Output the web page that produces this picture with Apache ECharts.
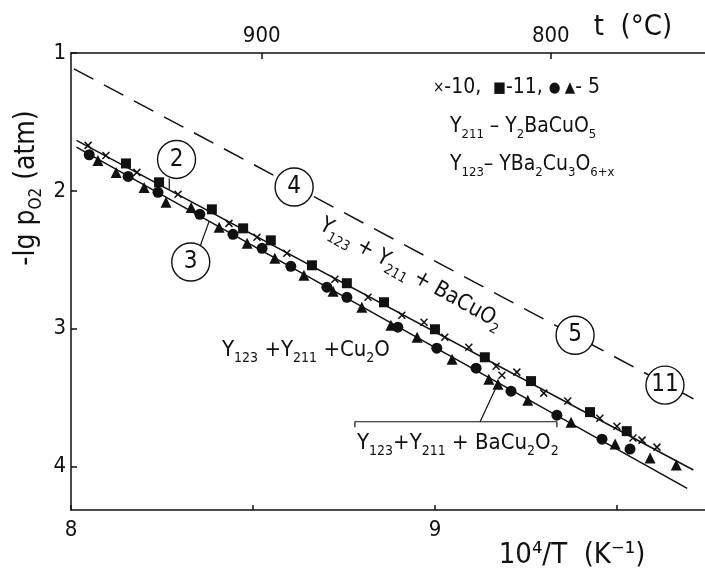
<!DOCTYPE html>
<html>
<head>
<meta charset="utf-8">
<script src="https://cdn.jsdelivr.net/npm/echarts@6/dist/echarts.min.js"></script>
<style>
html, body { margin: 0; padding: 0; background: #fff; }
#chart { width: 705px; height: 570px; }
</style>
</head>
<body>
<div id="chart"></div>
<script>
// x: 10^4/T (K^-1), y: -lg pO2 (atm)
var crosses10 = [[8.047,1.670],[8.096,1.743],[8.181,1.866],[8.294,2.025],[8.434,2.236],[8.511,2.337],
    [8.593,2.453],[8.725,2.641],[8.816,2.772],[8.909,2.902],[8.970,2.953],[9.027,3.062],[9.093,3.134],
    [9.168,3.272],[9.184,3.337],[9.225,3.315],[9.299,3.467],[9.365,3.525],[9.453,3.649],[9.500,3.707],
    [9.544,3.793],[9.569,3.808],[9.610,3.859]];
var squares11 = [[8.151,1.801],[8.242,1.938],[8.387,2.134],[8.473,2.272],[8.549,2.359],[8.662,2.540],
    [8.758,2.670],[8.860,2.808],[9.000,3.004],[9.137,3.207],[9.264,3.380],[9.426,3.605],[9.527,3.743]];
var circles5 = [[8.050,1.738],[8.157,1.895],[8.239,2.011],[8.354,2.170],[8.445,2.315],[8.525,2.417],
    [8.604,2.547],[8.703,2.699],[8.758,2.772],[8.898,2.989],[9.005,3.141],[9.113,3.286],[9.209,3.453],
    [9.335,3.627],[9.459,3.801],[9.536,3.873]];
var triangles5 = [[8.074,1.779],[8.124,1.866],[8.201,1.975],[8.261,2.083],[8.330,2.120],[8.407,2.264],
    [8.484,2.380],[8.560,2.489],[8.640,2.612],[8.720,2.728],[8.799,2.844],[8.879,2.975],[8.951,3.062],
    [9.047,3.221],[9.148,3.366],[9.173,3.402],[9.255,3.518],[9.374,3.678],[9.495,3.837],[9.591,3.938],
    [9.663,3.989]];

// fitted lines, end points
var line2 = [[8.015,1.634],[9.710,4.025]];
var line3 = [[8.015,1.683],[9.693,4.158]];
var line4 = [[8.008,1.115],[9.728,3.533]];

// numbered circles and their leaders
var circleNames = ['2', '3', '4', '5', '11'];
var circlePos = [[8.290,1.772],[8.329,2.516],[8.613,1.972],[9.385,3.047],[9.632,3.409]];
var leader2 = [[8.270,1.910],[8.270,1.990]];
var leader3 = [[8.354,2.407],[8.379,2.225]];
var bracket = [[8.780,3.715],[8.780,3.675],[9.335,3.675],[9.335,3.715]];
var leaderBracket = [[9.124,3.675],[9.172,3.402]];

var xTicks = [8, 8.5, 9, 9.5];
var xLabels = [8, 9];
var yTicks = [1, 2, 3, 4];
var tempTicks = [900, 800];

var fam = '"DejaVu Sans Condensed", "DejaVu Sans", sans-serif';
var ink = '#111';

function toInvT(t) { return 1e4 / (t + 273.15); }

function rich(size) {
    return {
        m: { fontSize: size, fontFamily: fam, fill: ink, color: ink, lineHeight: size + 8 },
        s: { fontSize: Math.round(size * 0.62), fontFamily: fam, fill: ink, color: ink,
             lineHeight: Math.round(size * 0.62), verticalAlign: 'bottom' },
        k: { fontSize: Math.round(size * 0.7), fontFamily: fam, fill: ink, color: ink, lineHeight: size + 8 }
    };
}

function txt(x, y, text, size, align, rot) {
    return {
        type: 'text', x: x, y: y, rotation: rot || 0, z: 50,
        style: {
            text: text, rich: rich(size), fill: ink,
            font: size + 'px ' + fam,
            align: align, textAlign: align,
            verticalAlign: 'middle', textVerticalAlign: 'middle'
        }
    };
}

function lineSeries(data, dashed, width) {
    return {
        type: 'line', data: data, symbol: 'none', z: 2, silent: true,
        lineStyle: { color: ink, width: width || 1.5, type: dashed ? [22, 12] : 'solid' }
    };
}

function markSeries(data, symbol, size, stroke) {
    return {
        type: 'scatter', data: data, symbol: symbol, symbolSize: size, z: 5,
        itemStyle: stroke
            ? { color: 'rgba(0,0,0,0)', borderColor: ink, borderWidth: 1.5, opacity: 1 }
            : { color: ink, opacity: 1 }
    };
}

var chart = echarts.init(document.getElementById('chart'));
var option = {
    animation: false,
    backgroundColor: '#fff',
    grid: { left: 71, right: 0, top: 53, bottom: 60 },
    xAxis: [
        {
            type: 'value', position: 'bottom', min: 8, max: 9.742,
            axisLine: { lineStyle: { color: ink, width: 1.5 } },
            axisTick: { inside: true, length: 5, lineStyle: { color: ink, width: 1.5 }, customValues: xTicks },
            axisLabel: { customValues: xLabels, color: ink, fontSize: 22, fontFamily: fam, margin: 9 },
            splitLine: { show: false }
        },
        {
            type: 'value', position: 'top', min: 8, max: 9.742,
            axisLine: { lineStyle: { color: ink, width: 1.5 } },
            axisTick: { inside: true, length: 6, lineStyle: { color: ink, width: 1.5 },
                        customValues: tempTicks.map(toInvT) },
            axisLabel: {
                customValues: tempTicks.map(toInvT), color: ink, fontSize: 22, fontFamily: fam, margin: 6,
                formatter: function (v) { return Math.round(1e4 / v - 273.15); }
            },
            splitLine: { show: false }
        }
    ],
    yAxis: {
        type: 'value', inverse: true, min: 1, max: 4.315,
        axisLine: { lineStyle: { color: ink, width: 1.5 } },
        axisTick: { inside: true, length: 6, lineStyle: { color: ink, width: 1.5 }, customValues: yTicks },
        axisLabel: { customValues: yTicks, color: ink, fontSize: 22, fontFamily: fam, margin: 5 },
        splitLine: { show: false }
    },
    series: [
        lineSeries(line2),
        lineSeries(line3),
        lineSeries(line4, true),
        lineSeries(leader2, false, 1.2),
        lineSeries(leader3, false, 1.2),
        lineSeries(bracket, false, 1.2),
        lineSeries(leaderBracket, false, 1.2),
        markSeries(crosses10, 'path://M0,0L10,10M10,0L0,10', 7, true),
        markSeries(squares11, 'rect', 10),
        markSeries(circles5, 'circle', 11),
        markSeries(triangles5, 'triangle', 11),
        {
            type: 'scatter', z: 10, symbol: 'circle', symbolSize: 38,
            data: circlePos.map(function (p, i) { return { name: circleNames[i], value: p }; }),
            itemStyle: { color: '#fff', borderColor: ink, borderWidth: 1.4, opacity: 1 },
            label: {
                show: true, position: 'inside', color: ink, fontSize: 24, fontFamily: fam,
                formatter: function (p) { return p.name; }
            }
        }
    ],
    graphic: [
        txt(633, 27, 't  (°C)', 29, 'center'),
        txt(572, 555, '10⁴/T  (K⁻¹)', 29, 'center'),
        txt(27, 188, '{m|-lg p}{s|O2}{m| (atm)}', 28, 'center', Math.PI / 2),
        txt(433, 88, '{k|×}{m|-10,  }{k|■}{m|-11, }{k|● ▲}{m|- 5}', 21, 'left'),
        txt(450, 127, '{m|Y}{s|211}{m| – Y}{s|2}{m|BaCuO}{s|5}', 21, 'left'),
        txt(450, 165, '{m|Y}{s|123}{m|– YBa}{s|2}{m|Cu}{s|3}{m|O}{s|6+x}', 21, 'left'),
        txt(222, 350, '{m|Y}{s|123}{m| +Y}{s|211}{m| +Cu}{s|2}{m|O}', 22, 'left'),
        txt(411, 274, '{m|Y}{s|123}{m| + Y}{s|211}{m| + BaCuO}{s|2}', 22, 'center', -29.2 * Math.PI / 180),
        txt(357, 443, '{m|Y}{s|123}{m|+Y}{s|211}{m| + BaCu}{s|2}{m|O}{s|2}', 22, 'left')
    ]
};
chart.setOption(option);
</script>
</body>
</html>
